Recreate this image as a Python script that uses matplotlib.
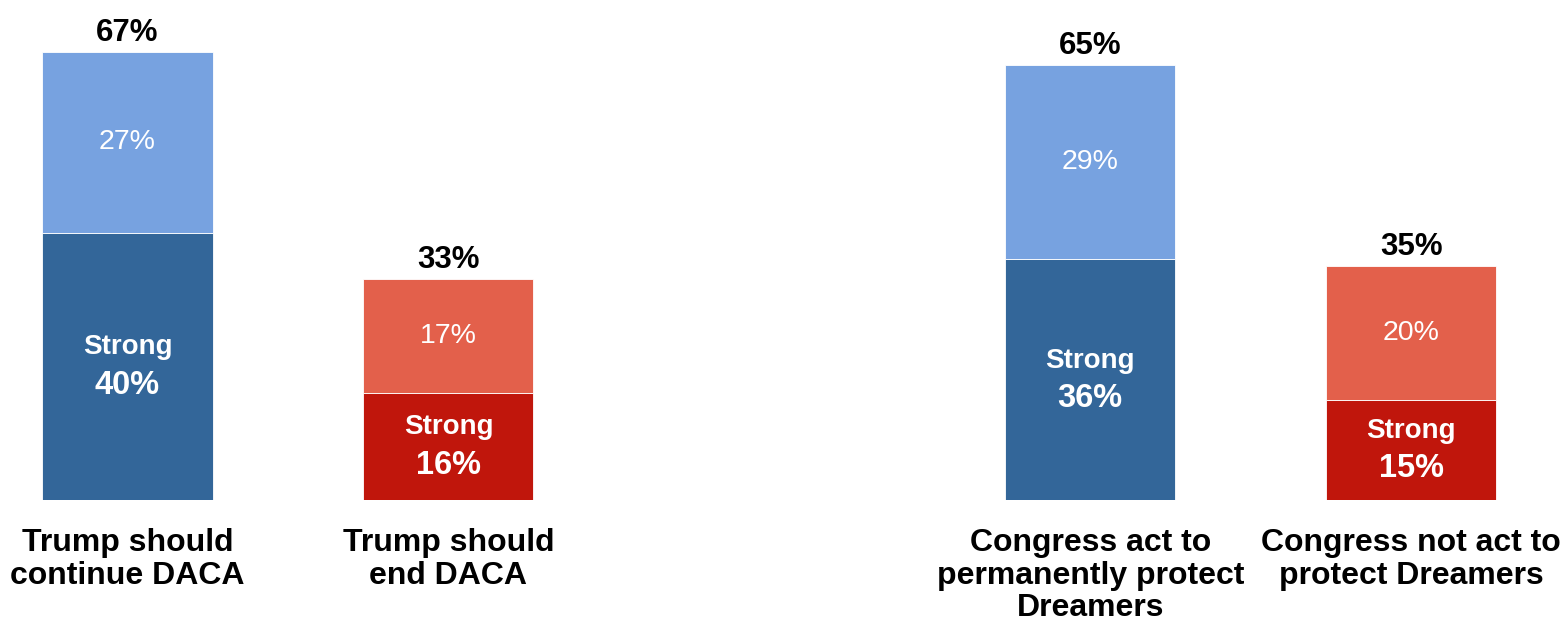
import matplotlib.pyplot as plt

plt.rcParams['font.family'] = ['Liberation Sans', 'DejaVu Sans']

categories = ['Trump should\ncontinue DACA', 'Trump should\nend DACA',
              'Congress act to\npermanently protect\nDreamers',
              'Congress not act to\nprotect Dreamers']
positions = [0, 1, 3, 4]
strong = [40, 16, 36, 15]
other = [27, 17, 29, 20]
totals = [67, 33, 65, 35]
dark_colors = ['#336699', '#C0160C', '#336699', '#C0160C']
light_colors = ['#77A2E0', '#E3604B', '#77A2E0', '#E3604B']

fig = plt.figure(figsize=(15.64, 6.24), dpi=100)
ax = fig.add_axes([0, 124 / 624, 1, 500 / 624])

w = 0.53
ax.bar(positions, strong, width=w, color=dark_colors, edgecolor='white', linewidth=0.6)
ax.bar(positions, other, width=w, bottom=strong, color=light_colors,
       edgecolor='white', linewidth=0.6)

for x, s, o, t, lab in zip(positions, strong, other, totals, categories):
    # strong segment
    ax.text(x, s / 2 + 2.85, 'Strong', ha='center', va='center', color='white',
            fontsize=20, fontweight='bold')
    ax.text(x, s / 2 - 2.85, f'{s}%', ha='center', va='center', color='white',
            fontsize=23.5, fontweight='bold')
    # upper segment
    ax.text(x, s + o / 2, f'{o}%', ha='center', va='center', color='white',
            fontsize=20.5)
    # total on top
    ax.annotate(f'{t}%', (x, t), xytext=(0, 3), textcoords='offset points',
                ha='center', va='bottom', fontsize=22.5, fontweight='bold')
    # category below
    ax.annotate(lab, (x, 0), xytext=(0, -20), textcoords='offset points',
                ha='center', va='top', fontsize=23, fontweight='bold',
                linespacing=1.12, annotation_clip=False)

ax.set_xlim(-127.5 / 320.9, (1564 - 127.5) / 320.9)
ax.set_ylim(0, 500 / 6.687)
ax.axis('off')

fig.savefig('out.png', dpi=100)
